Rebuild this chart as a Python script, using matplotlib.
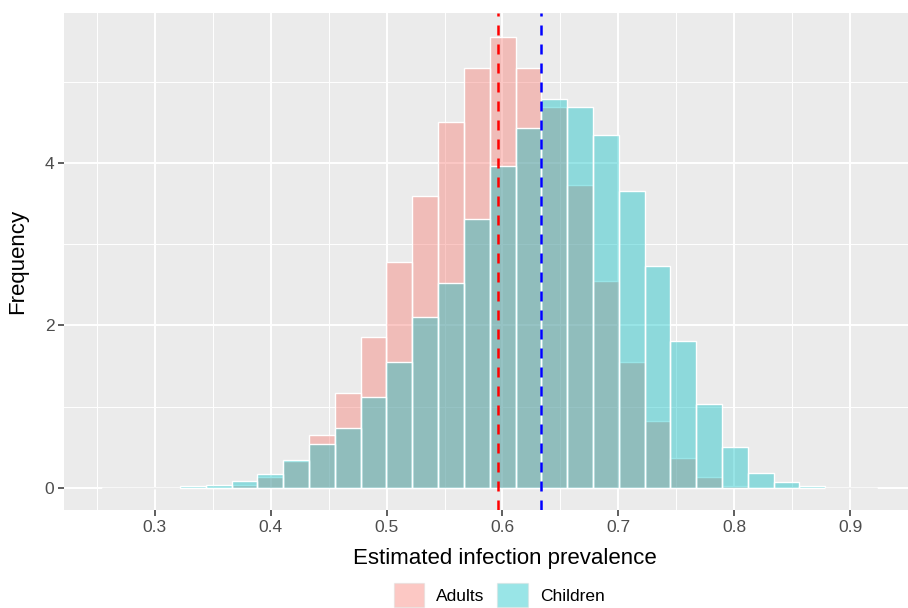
import numpy as np
import matplotlib
matplotlib.use("Agg")
from matplotlib import pyplot as plt
from matplotlib.patches import Patch

plt.rcParams['font.family'] = ['Liberation Sans', 'DejaVu Sans']

# histogram bins (30 bins, density scale)
bin_start = 0.2548
bin_width = 0.02228
adults = [0, 0, 0, 0.0, 0.01, 0.04, 0.13, 0.33, 0.65, 1.17,
          1.86, 2.78, 3.59, 4.51, 5.17, 5.55, 5.17, 4.69, 3.73, 2.55,
          1.55, 0.82, 0.37, 0.135, 0.025, 0, 0, 0, 0, 0]
children = [0, 0, 0, 0.025, 0.04, 0.08, 0.17, 0.34, 0.54, 0.74,
            1.12, 1.55, 2.10, 2.52, 3.31, 3.96, 4.43, 4.79, 4.69, 4.34,
            3.66, 2.73, 1.81, 1.03, 0.505, 0.18, 0.074, 0.025, 0, 0]
mean_adults = 0.5960
mean_children = 0.6333

groups = ["Adults", "Children"]
colors = ["#F8766D", "#00BFC4"]
panel_bg = "#EBEBEB"

edges = bin_start + bin_width * np.arange(len(adults))

fig = plt.figure(figsize=(9.08, 6.08), dpi=100)
ax = fig.add_axes([64/908, 1 - 510/608, 1 - 64/908, (510 - 13)/608])
ax.set_facecolor(panel_bg)

for vals, col in zip([adults, children], colors):
    ec = ["white" if v > 0 else panel_bg for v in vals]
    ax.bar(edges, vals, width=bin_width, align='edge', color=col, alpha=0.4,
           edgecolor='none', zorder=3)
    # outlines drawn separately so they stay opaque
    ax.bar(edges, vals, width=bin_width, align='edge', fill=False,
           edgecolor=ec, linewidth=1.0, zorder=3)

ax.axvline(mean_adults, color="red", linestyle=(0, (4, 3.6)), linewidth=1.8, zorder=4)
ax.axvline(mean_children, color="blue", linestyle=(0, (4, 3.6)), linewidth=1.8, zorder=4)

ax.set_xlim(0.2216, 0.9491)
ax.set_ylim(-0.271, 5.846)
ax.set_xticks([0.3, 0.4, 0.5, 0.6, 0.7, 0.8, 0.9])
ax.set_xticklabels(["0.3", "0.4", "0.5", "0.6", "0.7", "0.8", "0.9"])
ax.set_yticks([0, 2, 4])
ax.set_xticks(np.arange(0.25, 0.96, 0.1), minor=True)
ax.set_yticks([1, 3, 5], minor=True)
ax.grid(which='major', color='white', linewidth=1.4, zorder=0)
ax.grid(which='minor', color='white', linewidth=0.7, zorder=0)
ax.set_axisbelow(True)
for s in ax.spines.values():
    s.set_visible(False)
ax.tick_params(which='major', length=4, width=1.1, color='#333333',
               labelcolor='#4D4D4D', labelsize=12.5, pad=3)
ax.tick_params(which='minor', length=0)

ax.set_xlabel("Estimated infection prevalence", fontsize=16, color='black')
ax.xaxis.set_label_coords((505 - 64)/844, -0.077)
ax.set_ylabel("Frequency", fontsize=16, color='black')
ax.yaxis.set_label_coords(-0.043, 0.5)

handles = [Patch(facecolor=c, alpha=0.4, edgecolor='#D9D9D9', linewidth=1.0) for c in colors]
fig.legend(handles, groups, loc='upper center', bbox_to_anchor=(499/908, 1 - 583/608),
           ncol=2, frameon=False, fontsize=12.5, handlelength=1.78, handleheight=1.78,
           handletextpad=0.69, columnspacing=0.69, borderpad=0, borderaxespad=0)

fig.savefig("out.png", dpi=100)
